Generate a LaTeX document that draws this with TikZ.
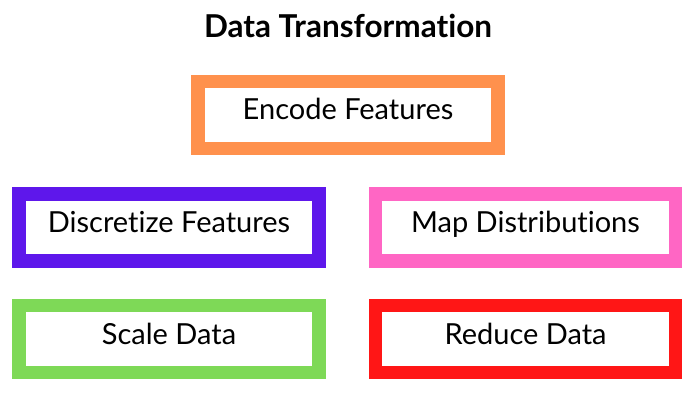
\documentclass[tikz,border=0pt]{standalone}
\usepackage{fontspec}
\setmainfont{Lato}[Ligatures=NoCommon]
\usetikzlibrary{positioning}
\definecolor{boxorange}{HTML}{FF914D}
\definecolor{boxpurple}{HTML}{5E17EB}
\definecolor{boxpink}{HTML}{FF66C4}
\definecolor{boxgreen}{HTML}{7ED957}
\definecolor{boxred}{HTML}{FF1616}
\begin{document}
\begin{tikzpicture}[x=1pt, y=-1pt,
    stepbox/.style={rectangle, draw, line width=13.5pt, fill=white, minimum width=300pt, minimum height=67pt, inner sep=0pt, text height=19pt, text depth=9pt, font=\fontsize{29}{33}\selectfont}]
    \useasboundingbox (0,0) rectangle (700,403);
    % Title
    \node (title) at (348,26) {\fontsize{31.5}{36}\selectfont\bfseries Data Transformation};
    % Boxes
    \node (encode) [stepbox, draw=boxorange] at (348,115) {Encode Features};
    \node (discretize) [stepbox, draw=boxpurple] at (169,227.5) {Discretize Features};
    \node (mapdist) [stepbox, draw=boxpink, right=43pt of discretize] {Map Distributions};
    \node (scale) [stepbox, draw=boxgreen, below=31pt of discretize] {Scale Data};
    \node (reduce) [stepbox, draw=boxred, below=31pt of mapdist] {Reduce Data};
\end{tikzpicture}
\end{document}
